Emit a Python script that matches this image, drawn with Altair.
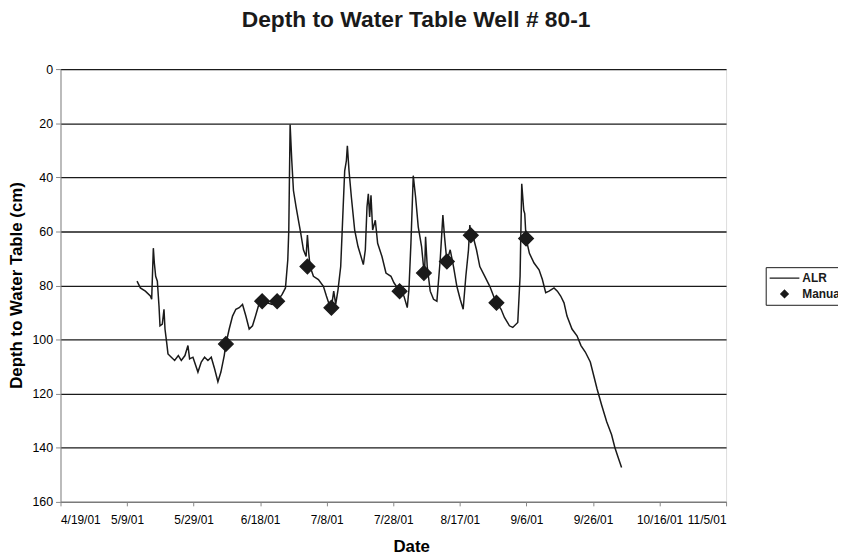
import altair as alt
import pandas as pd

# ALR logger record: days after 4/19/01 and depth to water table (cm)
alr_day = [
    23.0, 24.0, 25.5, 27.0, 27.4, 27.9, 28.2, 28.6, 29.1, 29.6, 29.9, 30.6, 31.1, 31.4, 31.9,
    32.3, 33.3, 34.3, 35.4, 36.3, 37.4, 38.3, 38.8, 39.8, 41.3, 42.3, 43.3, 44.3, 45.3, 46.3,
    47.3, 48.2, 49.2, 49.7, 50.7, 51.7, 52.7, 53.7, 54.7, 55.7, 56.7, 57.7, 58.6, 59.6, 60.6,
    62.1, 63.6, 65.1, 66.6, 67.6, 68.3, 68.6, 69.0, 69.5, 70.0, 70.8, 71.5, 72.2, 73.0, 73.8,
    74.2, 74.6, 75.0, 76.0, 77.5, 79.0, 79.9, 80.9, 81.4, 82.1, 82.7, 83.4, 84.2, 84.9, 85.4,
    85.9, 86.2, 86.7, 87.4, 88.4, 89.4, 90.3, 91.0, 91.6, 92.1, 92.5, 92.9, 93.3, 93.8, 94.6,
    95.3, 96.6, 97.8, 99.3, 100.2, 101.9, 103.2, 104.2, 104.7, 105.3, 106.0, 106.7, 107.5, 108.5,
    109.0, 109.4, 109.7, 110.2, 111.1, 112.1, 113.1, 114.1, 114.9, 115.4, 116.1, 117.1, 118.1,
    119.1, 120.1, 121.0, 121.8, 122.6, 123.0, 123.3, 124.0, 125.0, 126.0, 127.5, 129.0, 130.5,
    131.0, 132.4, 133.4, 134.9, 135.9, 137.4, 138.1, 138.6, 139.2, 139.5, 139.9, 140.9, 142.3,
    143.8, 144.8, 145.8, 146.8, 148.3, 149.3, 150.3, 151.3, 152.2, 153.7, 155.2, 156.4, 157.7,
    159.2, 160.2, 161.2, 162.6, 164.1, 165.6, 166.6, 167.6, 168.6,
]
alr_depth = [
    78.4, 80.9, 82.1, 83.9, 85.1, 66.2, 71.7, 76.6, 78.4, 87.6, 94.9, 94.3, 88.8, 96.1, 101.0,
    105.3, 106.5, 107.7, 105.9, 107.7, 105.9, 102.2, 107.1, 106.5, 112.0, 108.3, 106.5, 107.7, 106.5, 110.8,
    115.6, 112.0, 105.9, 101.6, 96.1, 91.3, 88.8, 88.2, 87.0, 91.3, 96.1, 94.9, 91.3, 87.0, 85.8,
    86.4, 87.0, 85.8, 83.3, 80.9, 70.5, 59.5, 20.5, 33.9, 44.9, 51.0, 55.9, 60.7, 66.8, 69.3,
    61.4, 68.1, 73.0, 76.6, 77.8, 80.3, 83.9, 87.6, 88.2, 82.1, 87.0, 81.5, 73.0, 52.2, 37.6,
    33.9, 28.4, 37.6, 47.3, 59.5, 65.6, 69.3, 72.3, 66.8, 51.0, 46.1, 54.7, 46.7, 59.5, 55.9,
    64.4, 69.3, 75.4, 76.6, 79.0, 82.1, 83.9, 88.2, 81.5, 64.4, 39.4, 47.3, 58.3, 65.6,
    72.0, 76.0, 62.0, 73.0, 82.1, 85.1, 85.8, 70.5, 54.0, 62.0, 71.1, 66.8, 73.0,
    80.3, 85.1, 88.8, 76.6, 66.8, 57.7, 61.4, 62.0, 66.8, 73.0, 76.6, 80.3, 85.1,
    86.4, 88.8, 91.8, 94.9, 95.5, 93.7, 76.6, 42.4, 52.2, 53.4, 62.6, 68.1, 71.7,
    74.2, 77.8, 82.7, 82.1, 80.9, 82.1, 83.9, 86.4, 91.3, 96.1, 98.6, 102.2, 104.6,
    108.3, 113.2, 118.1, 124.2, 130.3, 135.2, 140.0, 143.7, 147.3,
]

# Manual readings
manual_day = [49.7, 60.6, 65.1, 74.2, 81.4, 101.9, 109.2, 116.1, 123.3, 131.0, 139.9]
manual_depth = [101.6, 85.8, 85.8, 73.0, 88.2, 82.1, 75.4, 71.1, 61.4, 86.4, 62.6]

# Axis ticks
tick_dates = [(4, 19), (5, 9), (5, 29), (6, 18), (7, 8), (7, 28), (8, 17), (9, 6), (9, 26), (10, 16), (11, 5)]
y_ticks = [0, 20, 40, 60, 80, 100, 120, 140, 160]

series_names = ["ALR", "Manual"]

base = pd.Timestamp("2001-04-19")


def to_dates(days):
    return [(base + pd.to_timedelta(d, unit="D")).strftime("%Y-%m-%dT%H:%M:%S") for d in days]


alr_df = pd.DataFrame({"date": to_dates(alr_day), "depth": alr_depth, "series": "ALR"})
man_df = pd.DataFrame({"date": to_dates(manual_day), "depth": manual_depth, "series": "Manual"})

FONT = "Liberation Sans"
INK = "#1a1a1a"

x_scale = alt.Scale(domain=[alt.DateTime(year=2001, month=4, date=19),
                            alt.DateTime(year=2001, month=11, date=5)])
y_scale = alt.Scale(domain=[0, 160], reverse=True, nice=False)

x_axis = alt.Axis(
    values=[alt.DateTime(year=2001, month=m, date=d) for m, d in tick_dates],
    format="%-m/%-d/%y", title="Date", grid=False,
    tickSize=4, labelPadding=9, labelFontSize=12,
    titleX=354, titleY=50, titleBaseline="alphabetic", titleFontSize=17,
)
y_axis = alt.Axis(
    values=y_ticks, title="Depth to Water Table (cm)", grid=True,
    gridColor=INK, gridWidth=1.3, tickSize=5, labelPadding=3, labelFontSize=12.5,
    titleFontSize=17, titleX=-39, titleY=218, titleAngle=-90, titleAlign="center",
    titleBaseline="alphabetic",
)

line = alt.Chart(alr_df).mark_line(color=INK, strokeWidth=1.5).encode(
    x=alt.X("date:T", scale=x_scale, axis=x_axis),
    y=alt.Y("depth:Q", scale=y_scale, axis=y_axis),
)

diamond_path = "M0,-0.25L0.25,0L0,0.25L-0.25,0Z"
stroke_path = "M-1,0L1,0"

points = alt.Chart(man_df).mark_point(
    filled=False, fill=INK, fillOpacity=1, stroke=INK, strokeWidth=1.3, size=3500, opacity=1
).encode(
    x="date:T",
    y="depth:Q",
    shape=alt.Shape(
        "series:N",
        scale=alt.Scale(domain=series_names, range=[stroke_path, diamond_path]),
        legend=alt.Legend(
            title=None, orient="none", legendX=712, legendY=200,
            strokeColor=INK, padding=3, symbolSize=900, clipHeight=16,
            symbolStrokeWidth=1.3,
            labelFont=FONT, labelFontSize=12, labelFontWeight="bold", labelColor=INK,
            labelOffset=2, rowPadding=0, symbolOffset=0,
        ),
    ),
)

chart = alt.layer(line, points).properties(
    width=672, height=437,
    title=alt.TitleParams(
        "Depth to Water Table Well # 80-1", font=FONT, fontSize=23, fontWeight="bold",
        color=INK, anchor="middle", frame="group", dx=23, offset=13, baseline="alphabetic",
    ),
    autosize=alt.AutoSizeParams(type="none"),
    padding={"left": 53, "top": 59, "right": 113, "bottom": 56},
).configure_view(
    stroke=INK, strokeWidth=1.5
).configure_axis(
    labelFont=FONT, labelFontWeight="bold", labelColor=INK,
    titleFont=FONT, titleFontWeight="bold", titleColor=INK,
    domainColor=INK, domainWidth=1.5, tickColor=INK, tickWidth=1.3,
).configure(background="white")

chart.save("out.html", embed_options={"renderer": "svg", "actions": False})
